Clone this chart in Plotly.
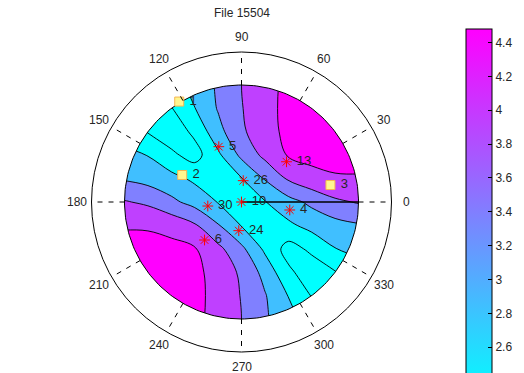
import numpy as np
import plotly.graph_objects as go

# ---------------- data ----------------
title_text = "File 15504"

# grid (unit disc radius = 1) on which the contoured field was read
grid_x = [-1.2, -1.0, -0.8, -0.6, -0.4, -0.2, 0.0, 0.2, 0.4, 0.6, 0.8, 1.0, 1.2]
grid_y = [-1.2, -1.0, -0.8, -0.6, -0.4, -0.2, 0.0, 0.2, 0.4, 0.6, 0.8, 1.0, 1.2]
z_grid = [
    [4.47, 4.47, 4.47, 4.47, 4.28, 4.03, 3.78, 3.48, 3.20, 2.94, 2.68, 2.45, 2.30],
    [4.47, 4.47, 4.47, 4.47, 4.30, 4.06, 3.80, 3.46, 3.12, 2.82, 2.50, 2.30, 2.45],
    [4.47, 4.47, 4.47, 4.46, 4.31, 4.07, 3.78, 3.43, 2.99, 2.58, 2.33, 2.50, 2.68],
    [4.47, 4.47, 4.47, 4.39, 4.29, 4.06, 3.73, 3.27, 2.68, 2.38, 2.58, 2.82, 2.94],
    [4.35, 4.36, 4.33, 4.31, 4.23, 3.90, 3.49, 2.92, 2.45, 2.68, 2.99, 3.10, 3.17],
    [4.14, 4.16, 4.16, 4.07, 3.85, 3.43, 2.98, 2.64, 2.92, 3.13, 3.26, 3.36, 3.43],
    [3.84, 3.83, 3.73, 3.49, 3.26, 2.98, 2.80, 2.98, 3.26, 3.49, 3.73, 3.83, 3.84],
    [3.43, 3.36, 3.26, 3.13, 2.92, 2.64, 2.98, 3.43, 3.85, 4.07, 4.16, 4.16, 4.14],
    [3.17, 3.10, 2.99, 2.68, 2.45, 2.92, 3.49, 3.90, 4.23, 4.31, 4.33, 4.36, 4.35],
    [2.94, 2.82, 2.58, 2.38, 2.68, 3.27, 3.73, 4.06, 4.29, 4.39, 4.47, 4.47, 4.47],
    [2.68, 2.50, 2.33, 2.58, 2.99, 3.43, 3.78, 4.07, 4.31, 4.46, 4.47, 4.47, 4.47],
    [2.45, 2.30, 2.50, 2.82, 3.12, 3.46, 3.80, 4.06, 4.30, 4.47, 4.47, 4.47, 4.47],
    [2.30, 2.45, 2.68, 2.94, 3.20, 3.48, 3.78, 4.03, 4.28, 4.47, 4.47, 4.47, 4.47],
]
contour_levels = [2.6, 3.0, 3.4, 3.8, 4.2]

# colour bar
cbar_min, cbar_max = 2.30, 4.48
cbar_ticks = [2.6, 2.8, 3.0, 3.2, 3.4, 3.6, 3.8, 4.0, 4.2, 4.4]
cbar_ticktext = ["2.6", "2.8", "3", "3.2", "3.4", "3.6", "3.8", "4", "4.2", "4.4"]

# stations: squares and stars (angle in degrees, radius as fraction of disc)
square_names = ["1", "2", "3"]
square_theta = [121.8, 155.5, 10.8]
square_r = [1.01, 0.557, 0.774]

star_names = ["5", "13", "26", "10", "30", "4", "24", "6"]
star_theta = [112.3, 41.8, 85.4, 0.0, 186.8, 350.6, 264.6, 225.8]
star_r = [0.511, 0.516, 0.183, 0.0, 0.290, 0.418, 0.246, 0.453]

# solid black ray from centre toward 0 degrees
ray_theta = [0.0, 0.0]
ray_r = [0.0, 1.0]

# polar frame
angle_ticks = [0, 30, 60, 90, 120, 150, 180, 210, 240, 270, 300, 330]
angle_labels = ["0", "30", "60", "90", "120", "150", "180", "210", "240", "270", "300", "330"]

# ---------------- layout geometry ----------------
W, H = 524, 373
CX, CY = 241.5, 202.0      # centre of polar plot (px)
S = 117.0                  # px per unit radius
R_OUT = 150.0 / S          # outer circle
R_LAB = 165.0 / S          # angle labels
CB_TOP, CB_PX_PER_UNIT = 29.0, 169.4
CB_LEFT, CB_THICK = 466.0, 26.0
FONT = "Liberation Sans, Arial, sans-serif"
TXT = "#262626"


def pol2xy(theta_deg, r):
    t = np.radians(np.asarray(theta_deg, dtype=float))
    r = np.asarray(r, dtype=float)
    return r * np.cos(t), r * np.sin(t)


def cool(t):
    return "rgb(%d,%d,255)" % (round(255 * t), round(255 * (1 - t)))


fig = go.Figure()

# filled contour
fig.add_trace(go.Contour(
    x=grid_x, y=grid_y, z=z_grid,
    autocontour=False,
    contours=dict(start=contour_levels[0], end=contour_levels[-1],
                  size=contour_levels[1] - contour_levels[0], coloring="fill"),
    colorscale=[[0.0, cool(0)], [0.2, cool(0)], [0.4, cool(0.25)],
                [0.6, cool(0.5)], [0.8, cool(0.75)], [1.0, cool(1)]],
    line=dict(color="black", width=0.9, smoothing=1.0),
    showscale=False, hoverinfo="skip",
))

# white mask outside the disc (polygon with a circular hole)
big = 6.0
phi = np.linspace(0, -2 * np.pi, 241)
mx = np.concatenate([[big, big, -big, -big, big, big, 1.0], np.cos(phi), [big]])
my = np.concatenate([[0, big, big, -big, -big, 0, 0.0], np.sin(phi), [0]])
fig.add_trace(go.Scatter(x=mx, y=my, mode="lines", fill="toself",
                         fillcolor="white", line=dict(width=0),
                         hoverinfo="skip", showlegend=False))

# disc outline
fig.add_trace(go.Scatter(x=np.cos(phi), y=np.sin(phi), mode="lines",
                         line=dict(color="black", width=1),
                         hoverinfo="skip", showlegend=False))

# ray
rx, ry = pol2xy(ray_theta, ray_r)
fig.add_trace(go.Scatter(x=rx, y=ry, mode="lines",
                         line=dict(color="black", width=1.5),
                         hoverinfo="skip", showlegend=False))

# stars
sx, sy = pol2xy(star_theta, star_r)
fig.add_trace(go.Scatter(
    x=sx, y=sy, mode="markers+text",
    text=[" " + n for n in star_names], textposition="middle right",
    textfont=dict(family=FONT, size=13, color=TXT),
    marker=dict(symbol="asterisk-open", size=9, color="red",
                line=dict(color="red", width=1)),
    hoverinfo="skip", showlegend=False))

# squares
qx, qy = pol2xy(square_theta, square_r)
fig.add_trace(go.Scatter(
    x=qx, y=qy, mode="markers+text",
    text=[" " + n for n in square_names], textposition="middle right",
    textfont=dict(family=FONT, size=13, color=TXT),
    marker=dict(symbol="square", size=9, color="#fff68f",
                line=dict(color="#f5b651", width=1)),
    hoverinfo="skip", showlegend=False))

# colour bar (continuous cool map)
fig.add_trace(go.Scatter(
    x=[50, 50], y=[50, 50], mode="markers",
    marker=dict(size=1, color=[cbar_min, cbar_max], cmin=cbar_min, cmax=cbar_max,
                colorscale=[[0, cool(0)], [1, cool(1)]], showscale=True,
                colorbar=dict(
                    x=CB_LEFT / W, xanchor="left", xpad=0,
                    y=1 - CB_TOP / H, yanchor="top", ypad=0,
                    len=(cbar_max - cbar_min) * CB_PX_PER_UNIT, lenmode="pixels",
                    thickness=CB_THICK, thicknessmode="pixels",
                    outlinecolor="black", outlinewidth=1,
                    tickvals=cbar_ticks, ticktext=cbar_ticktext,
                    ticks="inside", ticklen=4, tickcolor="black", tickwidth=1,
                    tickfont=dict(family=FONT, size=12, color=TXT),
                )),
    hoverinfo="skip", showlegend=False))

# spokes and outer circle
shapes = []
for a in angle_ticks:
    t = np.radians(a)
    shapes.append(dict(type="line", layer="above",
                       x0=1.0 * np.cos(t), y0=1.0 * np.sin(t),
                       x1=R_OUT * np.cos(t), y1=R_OUT * np.sin(t),
                       line=dict(color="black", width=1, dash="5px,6px")))
shapes.append(dict(type="circle", layer="above", x0=-R_OUT, y0=-R_OUT,
                   x1=R_OUT, y1=R_OUT, line=dict(color="black", width=1)))
# matching tick marks on the left edge of the colour bar
for v in cbar_ticks:
    yp = 1 - (CB_TOP + (cbar_max - v) * CB_PX_PER_UNIT) / H
    shapes.append(dict(type="line", xref="paper", yref="paper", layer="above",
                       x0=CB_LEFT / W, x1=(CB_LEFT + 4) / W, y0=yp, y1=yp,
                       line=dict(color="black", width=1)))

annotations = []
for a, lab in zip(angle_ticks, angle_labels):
    t = np.radians(a)
    annotations.append(dict(x=R_LAB * np.cos(t), y=R_LAB * np.sin(t), text=lab,
                            showarrow=False, xanchor="center", yanchor="middle",
                            font=dict(family=FONT, size=12, color=TXT)))
annotations.append(dict(x=CX / W, y=1 - 13 / H, xref="paper", yref="paper",
                        text=title_text, showarrow=False, xanchor="center",
                        yanchor="middle", font=dict(family=FONT, size=12, color=TXT)))

fig.update_layout(
    width=W, height=H,
    margin=dict(l=0, r=0, t=0, b=0, pad=0, autoexpand=False),
    paper_bgcolor="white", plot_bgcolor="white",
    showlegend=False,
    xaxis=dict(range=[-CX / S, (W - CX) / S], visible=False, fixedrange=True),
    yaxis=dict(range=[-(H - CY) / S, CY / S], visible=False, fixedrange=True),
    shapes=shapes, annotations=annotations,
)

fig.write_html("out.html")
